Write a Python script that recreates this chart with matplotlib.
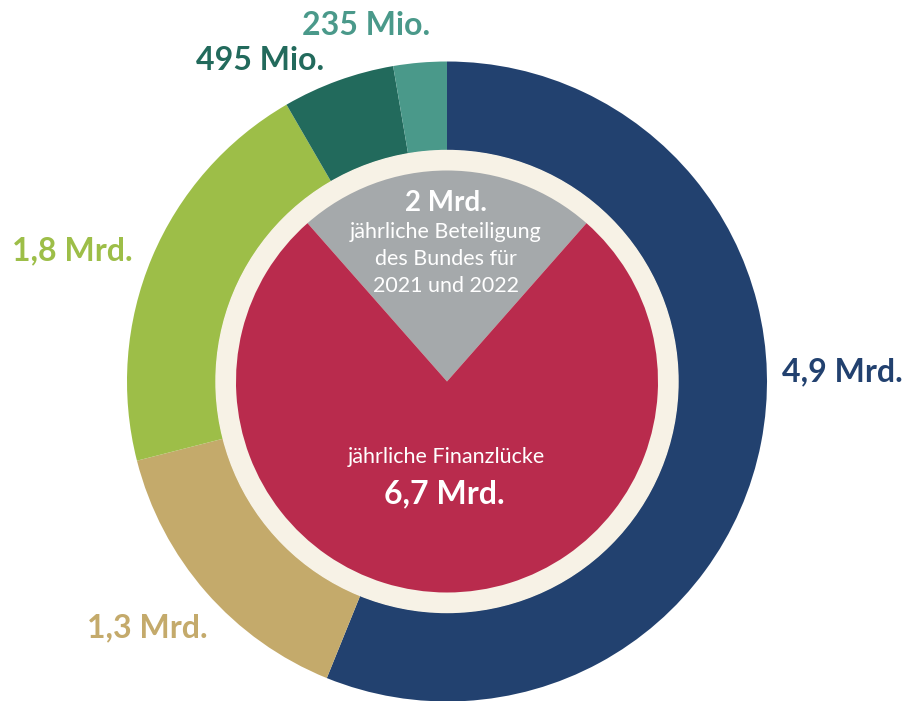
import matplotlib
matplotlib.use('Agg')
import matplotlib.pyplot as plt
from matplotlib.patches import Circle

plt.rcParams['font.family'] = ['Lato', 'DejaVu Sans']

# outer ring: funding sources
outer_labels = ['4,9 Mrd.', '1,3 Mrd.', '1,8 Mrd.', '495 Mio.', '235 Mio.']
outer_values = [4.9, 1.3, 1.8, 0.495, 0.235]
outer_colors = ['#22416f', '#c4aa6b', '#9dbe48', '#226a5c', '#4a998a']

# inner pie: federal share vs. gap
inner_values = [2.0, 6.7]
inner_colors = ['#a5a9ab', '#b92b4d']

W, H = 903, 701
cx, cy = 447, H - 381.5

fig = plt.figure(figsize=(W / 100, H / 100), dpi=100)
ax = fig.add_axes([0, 0, 1, 1])
ax.set_xlim(0, W)
ax.set_ylim(0, H)
ax.axis('off')

ax.pie(outer_values, colors=outer_colors, radius=320, center=(cx, cy),
       startangle=90, counterclock=False,
       wedgeprops=dict(width=89, linewidth=0))
ax.add_patch(Circle((cx, cy), 231, color='#f7f2e6', zorder=3))
gray_deg = 360 * inner_values[0] / sum(inner_values)
wedges, _ = ax.pie(inner_values, colors=inner_colors, radius=211, center=(cx, cy),
                   startangle=90 + gray_deg / 2, counterclock=False,
                   wedgeprops=dict(linewidth=0))
for w in wedges:
    w.set_zorder(4)
ax.set_xlim(0, W)
ax.set_ylim(0, H)
ax.set_aspect('equal')


def txt(x, y, s, **kw):
    # y given in image pixels from top, baseline aligned
    ax.text(x, H - y, s, ha='center', va='baseline', zorder=6, **kw)


# outer labels (x centre, baseline)
label_pos = [(842, 381), (147, 637), (72, 260), (260, 70), (366, 35)]
for lab, col, (x, y) in zip(outer_labels, outer_colors, label_pos):
    txt(x, y, lab, color=col, fontsize=23, fontweight='bold')

# inner texts
txt(446, 211, '2 Mrd.', color='white', fontsize=20, fontweight='bold')
txt(446, 238, 'jährliche Beteiligung', color='white', fontsize=15.5)
txt(446, 265, 'des Bundes für', color='white', fontsize=15.5)
txt(446, 292, '2021 und 2022', color='white', fontsize=15.5)
txt(446, 463, 'jährliche Finanzlücke', color='white', fontsize=15.5)
txt(444, 503, '6,7 Mrd.', color='white', fontsize=23, fontweight='bold')

fig.savefig('out.png', dpi=100, facecolor='white')
